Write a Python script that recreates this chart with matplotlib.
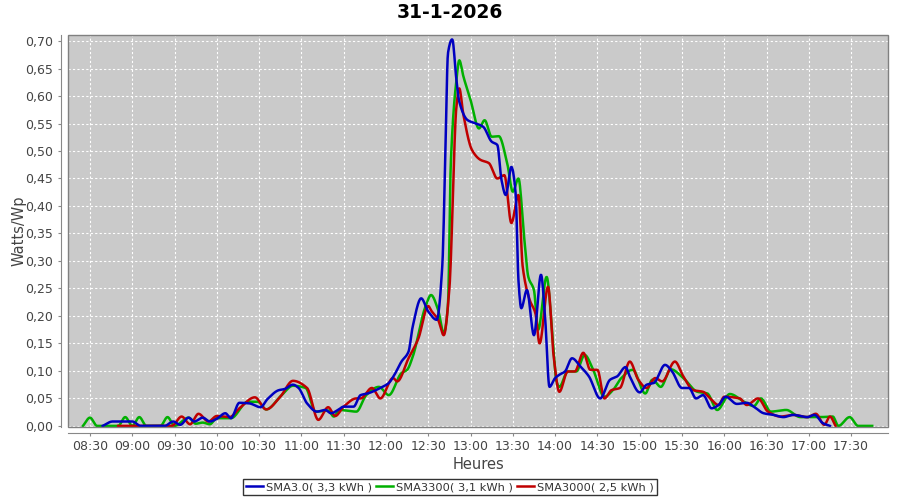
import numpy as np
import matplotlib
matplotlib.use("Agg")
import matplotlib.pyplot as plt
from matplotlib.patches import Rectangle

# --- data (time, Watts/Wp) ---
blue_t = ["08:39", "08:46", "09:00", "09:06", "09:23", "09:29", "09:34", "09:40", "09:44", "09:50",
          "09:55", "10:00", "10:06", "10:10", "10:16", "10:23", "10:31", "10:36", "10:44", "10:48",
          "10:54", "10:58", "11:04", "11:11", "11:17", "11:21", "11:26", "11:30", "11:37", "11:42",
          "11:47", "11:56", "12:02", "12:06", "12:11", "12:16", "12:19", "12:25", "12:30", "12:36",
          "12:40", "12:42", "12:44", "12:47", "12:50", "12:52", "12:58", "13:04", "13:09", "13:15",
          "13:19", "13:22", "13:25", "13:29", "13:32", "13:34", "13:36", "13:40", "13:45", "13:50",
          "13:53", "13:56", "14:00", "14:03", "14:07", "14:12", "14:18", "14:24", "14:32", "14:39",
          "14:44", "14:50", "14:53", "15:00", "15:05", "15:10", "15:18", "15:23", "15:30", "15:35",
          "15:40", "15:45", "15:51", "15:56", "16:01", "16:09", "16:16", "16:21", "16:28", "16:35",
          "16:42", "16:49", "16:59", "17:04", "17:10", "17:15"]
blue_v = [0.0, 0.008, 0.008, 0.0, 0.0, 0.008, 0.002, 0.015, 0.008, 0.015,
          0.008, 0.013, 0.023, 0.014, 0.042, 0.041, 0.034, 0.049, 0.065, 0.067,
          0.075, 0.069, 0.041, 0.026, 0.029, 0.023, 0.029, 0.035, 0.035, 0.056,
          0.059, 0.069, 0.078, 0.093, 0.117, 0.135, 0.181, 0.232, 0.208, 0.193,
          0.293, 0.478, 0.678, 0.703, 0.629, 0.590, 0.556, 0.550, 0.544, 0.517,
          0.511, 0.447, 0.420, 0.471, 0.423, 0.265, 0.214, 0.247, 0.165, 0.275,
          0.193, 0.071, 0.087, 0.093, 0.099, 0.123, 0.108, 0.090, 0.050, 0.084,
          0.090, 0.107, 0.090, 0.061, 0.075, 0.078, 0.111, 0.099, 0.069, 0.069,
          0.050, 0.056, 0.032, 0.038, 0.053, 0.040, 0.042, 0.035, 0.023, 0.020,
          0.016, 0.020, 0.016, 0.020, 0.005, 0.0]

green_t = ["08:25", "08:30", "08:35", "08:50", "08:55", "09:00", "09:05", "09:10", "09:20", "09:25",
           "09:30", "09:40", "09:45", "09:50", "09:55", "10:00", "10:10", "10:22", "10:29", "10:35",
           "10:46", "10:54", "11:03", "11:10", "11:19", "11:23", "11:27", "11:39", "11:46", "11:55",
           "12:02", "12:11", "12:15", "12:19", "12:28", "12:32", "12:37", "12:41", "12:44", "12:46",
           "12:50", "12:52", "12:55", "13:00", "13:06", "13:10", "13:15", "13:20", "13:26", "13:30",
           "13:34", "13:38", "13:41", "13:45", "13:48", "13:54", "13:58", "14:01", "14:03", "14:09",
           "14:15", "14:21", "14:27", "14:35", "14:41", "14:47", "14:55", "15:04", "15:09", "15:15",
           "15:22", "15:31", "15:41", "15:48", "15:55", "16:04", "16:14", "16:21", "16:26", "16:33",
           "16:44", "16:54", "17:08", "17:17", "17:21", "17:29", "17:35", "17:45"]
green_v = [0.0, 0.015, 0.0, 0.0, 0.016, 0.0, 0.016, 0.0, 0.0, 0.016,
           0.0, 0.015, 0.004, 0.006, 0.003, 0.014, 0.014, 0.044, 0.044, 0.030,
           0.056, 0.073, 0.069, 0.026, 0.028, 0.017, 0.029, 0.026, 0.056, 0.071,
           0.056, 0.096, 0.102, 0.126, 0.217, 0.238, 0.211, 0.169, 0.220, 0.478,
           0.629, 0.665, 0.635, 0.593, 0.541, 0.556, 0.526, 0.527, 0.478, 0.426,
           0.450, 0.344, 0.271, 0.247, 0.175, 0.271, 0.169, 0.081, 0.071, 0.099,
           0.099, 0.129, 0.102, 0.053, 0.065, 0.087, 0.102, 0.059, 0.084, 0.071,
           0.103, 0.087, 0.062, 0.059, 0.029, 0.058, 0.044, 0.036, 0.050, 0.026,
           0.029, 0.016, 0.016, 0.017, 0.0, 0.016, 0.0, 0.0]

red_t = ["08:50", "09:28", "09:35", "09:41", "09:47", "09:54", "10:00", "10:09", "10:16", "10:27",
         "10:35", "10:45", "10:54", "11:04", "11:12", "11:19", "11:24", "11:30", "11:39", "11:42",
         "11:50", "11:56", "12:05", "12:08", "12:16", "12:23", "12:30", "12:32", "12:37", "12:41",
         "12:45", "12:50", "12:52", "12:55", "13:01", "13:07", "13:13", "13:19", "13:24", "13:29",
         "13:34", "13:37", "13:42", "13:46", "13:49", "13:55", "13:59", "14:03", "14:09", "14:14",
         "14:20", "14:25", "14:30", "14:35", "14:40", "14:46", "14:53", "14:59", "15:05", "15:11",
         "15:16", "15:25", "15:31", "15:38", "15:45", "15:50", "15:56", "16:00", "16:11", "16:16",
         "16:24", "16:31", "16:40", "16:49", "16:59", "17:05", "17:11", "17:15", "17:19"]
red_v = [0.0, 0.0, 0.017, 0.003, 0.022, 0.008, 0.018, 0.016, 0.032, 0.052,
         0.030, 0.053, 0.082, 0.069, 0.011, 0.034, 0.018, 0.035, 0.050, 0.050,
         0.069, 0.050, 0.087, 0.081, 0.123, 0.159, 0.218, 0.210, 0.193, 0.165,
         0.250, 0.581, 0.614, 0.565, 0.502, 0.484, 0.478, 0.450, 0.456, 0.369,
         0.420, 0.290, 0.229, 0.205, 0.150, 0.253, 0.126, 0.062, 0.099, 0.099,
         0.133, 0.102, 0.102, 0.050, 0.065, 0.069, 0.117, 0.084, 0.069, 0.087,
         0.081, 0.117, 0.090, 0.065, 0.062, 0.050, 0.038, 0.053, 0.050, 0.038,
         0.050, 0.026, 0.017, 0.020, 0.016, 0.022, 0.002, 0.017, 0.0]

labels = ["SMA3.0( 3,3 kWh )", "SMA3300( 3,1 kWh )", "SMA3000( 2,5 kWh )"]
colors = ["#0000c0", "#00b000", "#c00000"]
xtick_labels = ["08:30", "09:00", "09:30", "10:00", "10:30", "11:00", "11:30", "12:00", "12:30", "13:00",
                "13:30", "14:00", "14:30", "15:00", "15:30", "16:00", "16:30", "17:00", "17:30"]


def to_min(s):
    h, m = s.split(":")
    return int(h) * 60 + int(m)


def pchip(x, y, xs):
    # monotone cubic hermite, keeps the curve smooth without overshoot
    x = np.asarray(x, float)
    y = np.asarray(y, float)
    h = np.diff(x)
    d = np.diff(y) / h
    m = np.zeros_like(y)
    for k in range(1, len(x) - 1):
        if d[k - 1] * d[k] > 0:
            w1 = 2 * h[k] + h[k - 1]
            w2 = h[k] + 2 * h[k - 1]
            m[k] = (w1 + w2) / (w1 / d[k - 1] + w2 / d[k])
    m[0] = d[0]
    m[-1] = d[-1]
    i = np.clip(np.searchsorted(x, xs) - 1, 0, len(x) - 2)
    t = (xs - x[i]) / h[i]
    h00 = 2 * t**3 - 3 * t**2 + 1
    h10 = t**3 - 2 * t**2 + t
    h01 = -2 * t**3 + 3 * t**2
    h11 = t**3 - t**2
    return h00 * y[i] + h10 * h[i] * m[i] + h01 * y[i + 1] + h11 * h[i] * m[i + 1]


fig = plt.figure(figsize=(9, 5), dpi=100)
ax = fig.add_axes([68 / 900, 1 - 427 / 500, (888 - 68) / 900, (427 - 35) / 500])
ax.set_facecolor("#cacaca")

series = [(blue_t, blue_v, 4), (green_t, green_v, 3), (red_t, red_v, 3)]
for (tt, vv, z), lab, col in zip(series, labels, colors):
    xm = np.array([to_min(s) for s in tt], float)
    xs = np.linspace(xm[0], xm[-1], 1500)
    ax.plot(xs, pchip(xm, vv, xs), color=col, lw=1.8, label=lab, zorder=z)

ax.set_xlim(to_min("08:30") - 15.6, to_min("17:30") + 26.2)
ax.set_ylim(-0.002, 0.711)

xt = [to_min(s) for s in xtick_labels]
ax.set_xticks(xt)
ax.set_xticklabels(xtick_labels)
yt = np.arange(0, 0.71, 0.05)
ax.set_yticks(yt)
ax.set_yticklabels([f"{v:.2f}".replace(".", ",") for v in yt])

ax.grid(True, color="white", linestyle=(0, (2, 2)), linewidth=0.8)
ax.set_axisbelow(True)

for side in ["top", "right"]:
    ax.spines[side].set_visible(False)
ax.spines["left"].set_position(("outward", 5))
ax.spines["bottom"].set_position(("outward", 4))
for side in ["left", "bottom"]:
    ax.spines[side].set_color("#888888")
ax.add_patch(Rectangle((0, 0), 1, 1, transform=ax.transAxes, fill=False,
                       edgecolor="#808080", lw=1.0, zorder=5, clip_on=False))

ax.tick_params(axis="both", colors="#888888", labelcolor="#444444", labelsize=9, length=2, width=0.8)

ax.set_xlabel("Heures", fontsize=10.5, color="#444444", labelpad=3)
ax.set_ylabel("Watts/Wp", fontsize=10.5, color="#444444")
ax.yaxis.set_label_coords((27 - 68) / 820, 0.5)
fig.suptitle("31-1-2026", fontsize=13.5, fontweight="bold", y=0.995, va="top")

leg = fig.legend(loc="center", bbox_to_anchor=(0.5, 1 - 487 / 500), ncol=3, fontsize=8.2,
                 frameon=True, fancybox=False, edgecolor="black", handlelength=1.5,
                 handletextpad=0.25, columnspacing=0.35, borderpad=0.3, borderaxespad=0)
leg.get_frame().set_linewidth(1.0)
for txt in leg.get_texts():
    txt.set_color("#333333")

fig.savefig("out.png", dpi=100)
